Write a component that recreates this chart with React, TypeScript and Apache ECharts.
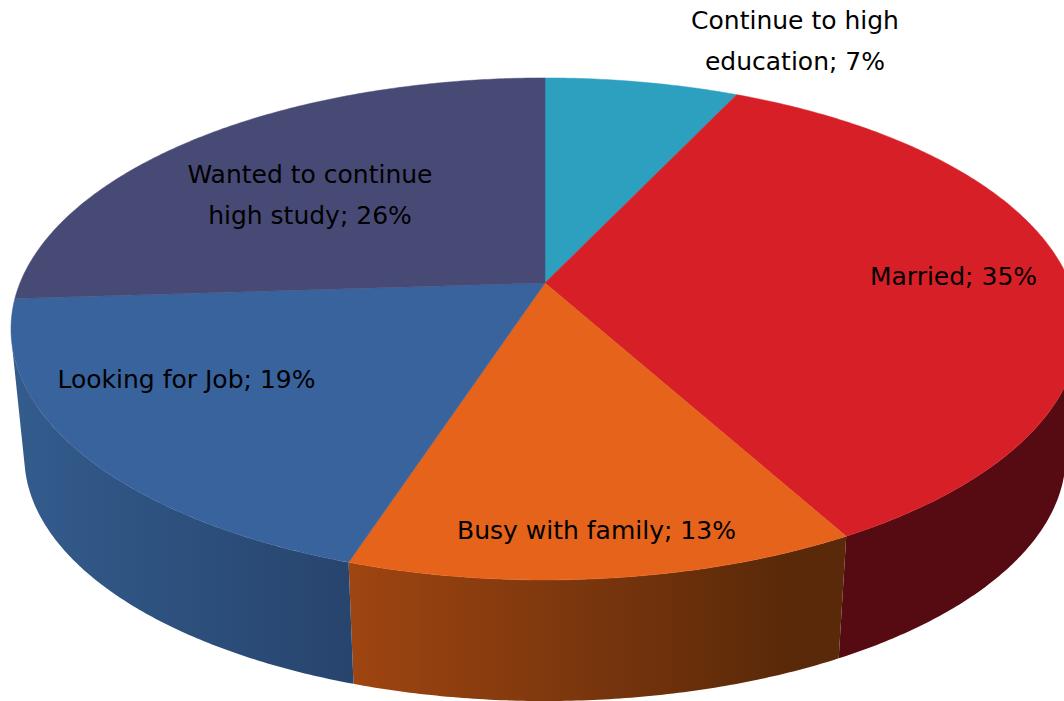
import React, { useEffect, useRef } from "react";
import * as echarts from "echarts";

const categories = ["Continue to high\neducation", "Married", "Busy with family", "Looking for Job", "Wanted to continue\nhigh study"];
const shares = [7, 35, 13, 19, 26];
const topColors = ["#2DA0BF", "#D71F27", "#E6631B", "#38639C", "#484A76"];
const sideFrom = ["#1E6A80", "#550B11", "#9F4511", "#335C8D", "#30314E"];
const sideTo = ["#1E6A80", "#550B11", "#5A2909", "#27446D", "#30314E"];
const sideFlatFrom = [1, 1, 0.88, 1, 1];

const W = 1064, H = 701;
// perspective disc: apex, horizontal/vertical radius, perspective strength
const CX = 545, CY = 283, RX = 525, RY = 242.6, K = 0.183;
// lower rim of the disc, further from the camera
const RIM_SCALE = 0.975, RIM_DROP = 128.5;
const FRONT_START = 103.2, FRONT_END = 256.8;
const FONT = '25px "DejaVu Sans", sans-serif';
const LINE_H = 41;
const labelAnchors = [[795, 41], [953.5, 276.5], [596.5, 530], [186.5, 379], [310, 195]];

const rad = (d: number) => (d * Math.PI) / 180;
function project(deg: number): [number, number] {
  const u = Math.sin(rad(deg)), v = -Math.cos(rad(deg));
  const den = 1 - K * v;
  return [(RX * u) / den, (RY * v) / den];
}
const topPt = (deg: number): number[] => {
  const [x, y] = project(deg);
  return [CX + x, CY + y];
};
const botPt = (deg: number): number[] => {
  const [x, y] = project(deg);
  return [CX + RIM_SCALE * x, CY + RIM_DROP + RIM_SCALE * y];
};
function arc(a: number, b: number, fn: (d: number) => number[]) {
  const n = Math.max(2, Math.ceil(Math.abs(b - a) * 2));
  const out: number[][] = [];
  for (let i = 0; i <= n; i++) out.push(fn(a + ((b - a) * i) / n));
  return out;
}
const total = shares.reduce((s, v) => s + v, 0);
const startAngle = (i: number) => (shares.slice(0, i).reduce((s, v) => s + v, 0) / total) * 360;

export default function App() {
  const ref = useRef<HTMLDivElement>(null);
  useEffect(() => {
    document.body.style.margin = "0";
    const chart = echarts.init(ref.current!, undefined, { renderer: "svg", width: W, height: H });
    const data = shares.map((v, i) => ({ value: [v, i], name: categories[i] }));
    chart.setOption({
      animation: false,
      backgroundColor: "#ffffff",
      series: [
        {
          type: "custom",
          coordinateSystem: "none",
          silent: true,
          z: 1,
          data,
          renderItem: (params: any, api: any) => {
            const i = params.dataIndex;
            const a = Math.max(startAngle(i), FRONT_START);
            const b = Math.min(startAngle(i) + (api.value(0) / total) * 360, FRONT_END);
            if (b <= a) return { type: "group", children: [] };
            const points = [...arc(a, b, topPt), ...arc(b, a, botPt)];
            return {
              type: "polygon",
              shape: { points },
              style: {
                fill: new echarts.graphic.LinearGradient(0, 0, 1, 0, [
                  { offset: 0, color: sideFrom[i] },
                  { offset: sideFlatFrom[i], color: sideTo[i] },
                  { offset: 1, color: sideTo[i] },
                ]),
              },
            };
          },
        },
        {
          type: "custom",
          coordinateSystem: "none",
          silent: true,
          z: 2,
          data,
          renderItem: (params: any, api: any) => {
            const i = params.dataIndex;
            const a = startAngle(i);
            const b = a + (api.value(0) / total) * 360;
            return {
              type: "polygon",
              shape: { points: [[CX, CY], ...arc(a, b, topPt)] },
              style: { fill: topColors[i], stroke: topColors[i], lineWidth: 0.5 },
            };
          },
        },
        {
          type: "custom",
          coordinateSystem: "none",
          silent: true,
          z: 3,
          data,
          renderItem: (params: any, api: any) => {
            const i = params.dataIndex;
            const lines = `${categories[i]}; ${api.value(0)}%`.split("\n");
            const [ax, ay] = labelAnchors[i];
            return {
              type: "group",
              children: lines.map((line, k) => ({
                type: "text",
                style: {
                  text: line,
                  x: ax,
                  y: ay + (k - (lines.length - 1) / 2) * LINE_H,
                  fill: "#000000",
                  font: FONT,
                  textAlign: "center",
                  textVerticalAlign: "middle",
                },
              })),
            };
          },
        },
      ],
    });
    return () => chart.dispose();
  }, []);
  return <div ref={ref} style={{ position: "absolute", left: 0, top: 0, width: W, height: H, overflow: "hidden" }} />;
}
